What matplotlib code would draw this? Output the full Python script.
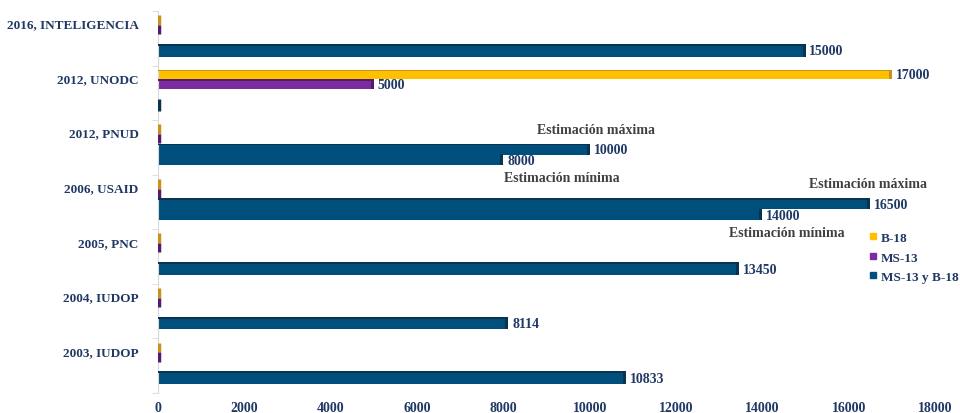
import numpy as np
import matplotlib.pyplot as plt
from matplotlib.lines import Line2D

# categories, bottom to top
categories = ['2003, IUDOP', '2004, IUDOP', '2005, PNC', '2006, USAID',
              '2012, PNUD', '2012, UNODC', '2016, INTELIGENCIA']
b18 = [0, 0, 0, 0, 0, 17000, 0]
ms13 = [0, 0, 0, 0, 0, 5000, 0]
# MS-13 y B-18: maximum estimate (or single value) and minimum estimate
both_max = [10833, 8114, 13450, 16500, 10000, 0, 15000]
both_min = [None, None, None, 14000, 8000, None, None]

# "Estimación" captions: (category index, x, kind)
notes = [(4, 10150, 'max'), (4, 9350, 'min'), (3, 16450, 'max'), (3, 14570, 'min')]

navy = '#1F3864'
blue, blue_d = '#004E7C', '#0A3350'
gold, gold_d = '#FFC000', '#C9901A'
purple, purple_d = '#7B2C9F', '#541A70'

plt.rcParams['font.family'] = ['Liberation Serif', 'DejaVu Serif']
plt.rcParams['font.weight'] = 'bold'

fig = plt.figure(figsize=(9.6, 4.14), dpi=100)
ax = fig.add_axes([0.1646, 0.0483, 0.8094, 0.9227])

k = np.arange(len(categories))


def bar3d(y, w, h, face, dark, top=True):
    if w <= 0:
        # zero value: only the side face of the 3D bar shows
        ax.vlines(30, y - h / 2, y + h / 2, color=dark, lw=2.5, zorder=3)
        return
    ax.barh(y, w, height=h, color=face, linewidth=0, zorder=2)
    if top:
        ax.barh(y + h * 0.42, w, height=h * 0.16, color=dark, linewidth=0, zorder=3)
    ax.barh(y, 70, left=w - 70, height=h, color=dark, linewidth=0, zorder=3)


for i in k:
    bar3d(i + 0.835, b18[i], 0.18, gold, gold_d)
    bar3d(i + 0.66, ms13[i], 0.17, purple, purple_d)
    if both_min[i] is None:
        bar3d(i + 0.28, both_max[i], 0.23, blue, blue_d)
    else:
        bar3d(i + 0.47, both_max[i], 0.2, blue, blue_d)
        bar3d(i + 0.275, both_min[i], 0.2, blue, blue_d, top=False)


# value labels
def vlabel(x, y):
    if x > 0:
        ax.text(x + 90, y, str(x), va='center', ha='left', color=navy,
                fontsize=10, fontweight='bold', zorder=5)


for i in k:
    vlabel(b18[i], i + 0.835)
    vlabel(ms13[i], i + 0.66)
    if both_min[i] is None:
        vlabel(both_max[i], i + 0.27)
    else:
        vlabel(both_max[i], i + 0.46)
        vlabel(both_min[i], i + 0.26)

for i, x, kind in notes:
    if kind == 'max':
        ax.text(x, i + 0.83, 'Estimación máxima', ha='center', va='center',
                color='#404040', fontsize=10, fontweight='bold')
    else:
        ax.text(x, i - 0.05, 'Estimación mínima', ha='center', va='center',
                color='#404040', fontsize=10, fontweight='bold')

ax.set_xlim(0, 18000)
ax.set_ylim(0, 7)
ax.set_xticks(np.arange(0, 18001, 2000))
ax.set_yticks(k + 0.78)
ax.set_yticklabels(categories)
ax.set_yticks(np.arange(0, 8), minor=True)
ax.tick_params(axis='x', length=0, pad=6, labelsize=10, labelcolor=navy)
ax.tick_params(axis='y', which='major', length=0, pad=14, labelsize=9.5, labelcolor=navy)
ax.tick_params(axis='y', which='minor', length=4, color='#D9D9D9')
for s in ['top', 'right', 'bottom']:
    ax.spines[s].set_visible(False)
ax.spines['left'].set_color('#D9D9D9')

handles = [Line2D([], [], marker='s', ls='', color=c, markersize=5)
           for c in [gold, purple, blue]]
leg = ax.legend(handles, ['B-18', 'MS-13', 'MS-13 y B-18'], loc='center left',
                bbox_to_anchor=(0.9, 0.355), frameon=False, handlelength=0.6,
                handletextpad=0.3, labelspacing=0.55, prop={'size': 9.5, 'weight': 'bold'})
for t in leg.get_texts():
    t.set_color(navy)

fig.savefig('out.png', dpi=100)
